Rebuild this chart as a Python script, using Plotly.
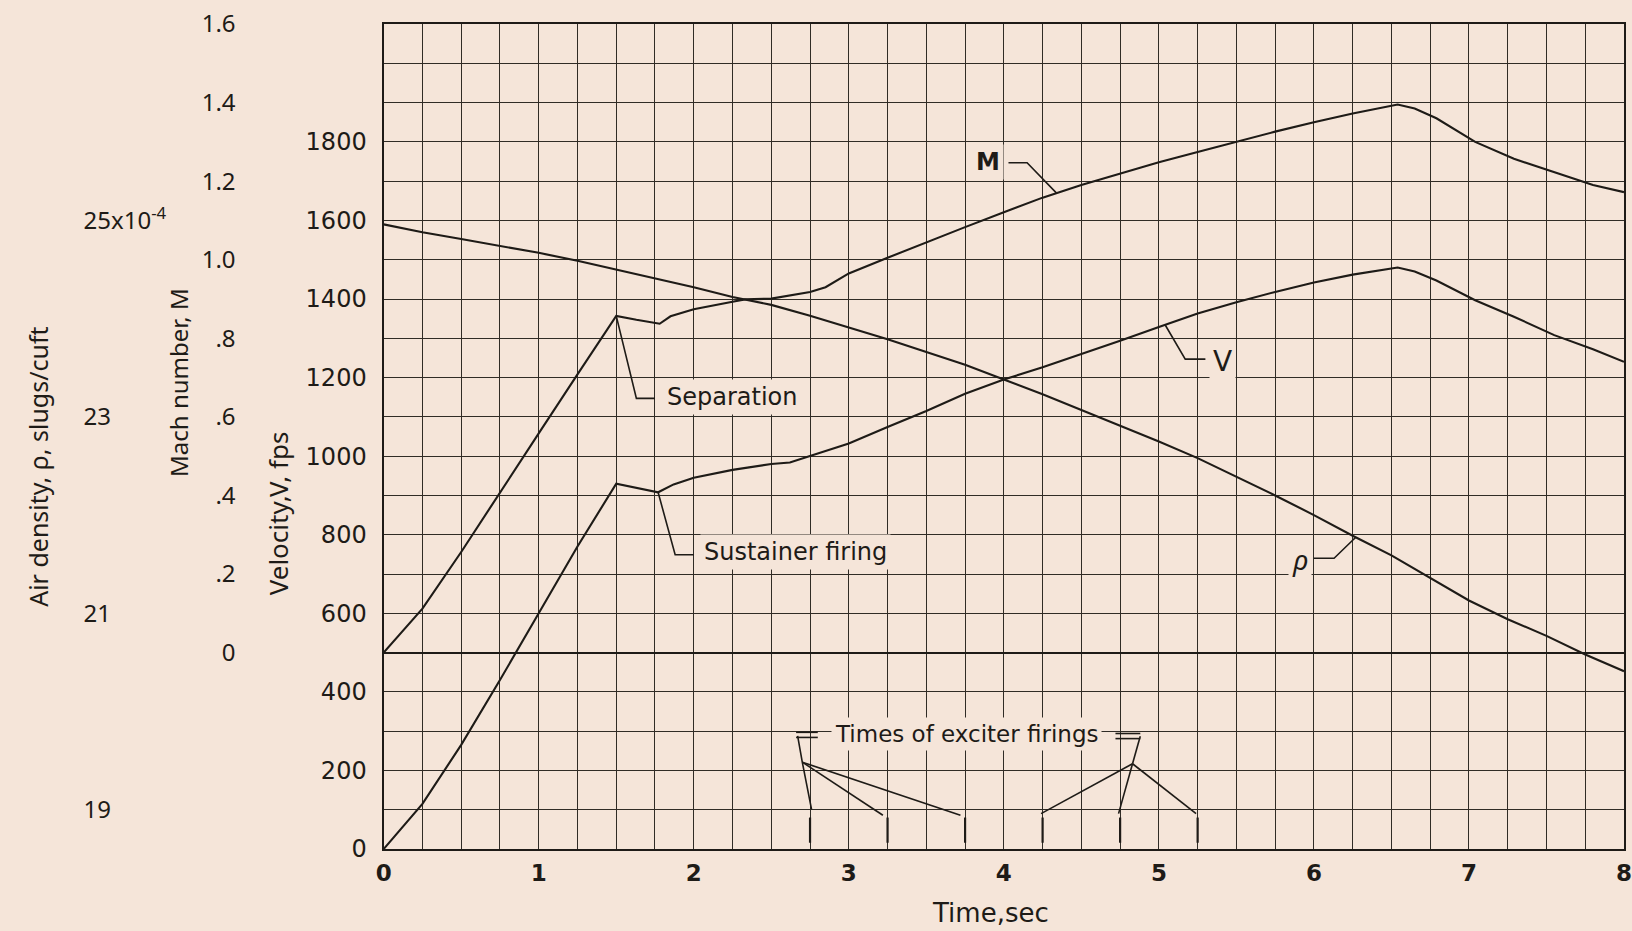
import numpy as np
import plotly.graph_objects as go

# ---------------- data ----------------
# Mach number M versus time
time_M = [0, 0.25, 0.5, 0.75, 1.0, 1.25, 1.5, 1.63, 1.78, 1.85, 2.0, 2.25, 2.33,
          2.5, 2.62, 2.75, 2.85, 3.0, 3.25, 3.5, 3.75, 4.0, 4.25, 4.5, 4.75, 5.0,
          5.25, 5.5, 5.75, 6.0, 6.25, 6.54, 6.65, 6.79, 6.92, 7.04, 7.29, 7.55, 7.8, 8.0]
mach = [0.0, 0.112, 0.256, 0.408, 0.558, 0.708, 0.857, 0.847, 0.837, 0.856, 0.874,
        0.893, 0.899, 0.901, 0.910, 0.918, 0.930, 0.965, 1.005, 1.045, 1.083, 1.121,
        1.158, 1.190, 1.220, 1.248, 1.274, 1.300, 1.326, 1.350, 1.372, 1.395, 1.385,
        1.360, 1.328, 1.300, 1.257, 1.222, 1.190, 1.172]

# Velocity V (fps) versus time
time_V = [0, 0.25, 0.5, 0.75, 1.0, 1.25, 1.5, 1.63, 1.77, 1.87, 2.0, 2.25, 2.5, 2.62,
          2.75, 3.0, 3.25, 3.5, 3.75, 4.0, 4.25, 4.5, 4.75, 5.0, 5.25, 5.5, 5.75, 6.0,
          6.25, 6.54, 6.65, 6.79, 6.92, 7.04, 7.29, 7.55, 7.8, 8.0]
velocity = [0, 115, 265, 430, 600, 770, 930, 920, 908, 928, 945, 965, 980, 984, 1000,
            1032, 1074, 1115, 1159, 1195, 1226, 1259, 1294, 1329, 1363, 1392, 1418,
            1442, 1462, 1480, 1470, 1447, 1420, 1397, 1355, 1308, 1272, 1240]

# Air density rho (x 10^-4 slugs/cuft) versus time
time_rho = [0, 0.25, 0.5, 0.75, 1.0, 1.25, 1.5, 1.75, 2.0, 2.25, 2.5, 2.75, 3.0, 3.25,
            3.5, 3.75, 4.0, 4.25, 4.5, 4.75, 5.0, 5.25, 5.5, 5.75, 6.0, 6.25, 6.5,
            6.75, 7.0, 7.25, 7.5, 7.75, 8.0]
rho = [24.96, 24.88, 24.81, 24.74, 24.67, 24.59, 24.50, 24.41, 24.32, 24.22, 24.14,
       24.03, 23.91, 23.79, 23.66, 23.53, 23.38, 23.23, 23.07, 22.91, 22.75, 22.58,
       22.39, 22.20, 22.00, 21.79, 21.59, 21.36, 21.13, 20.94, 20.77, 20.58, 20.41]

# Times of exciter firings (s)
exciter_times = [2.75, 3.25, 3.75, 4.25, 4.75, 5.25]

# tick labels
x_ticks = [0, 1, 2, 3, 4, 5, 6, 7, 8]
v_ticks = [0, 200, 400, 600, 800, 1000, 1200, 1400, 1600, 1800]
mach_ticks = [0, 0.2, 0.4, 0.6, 0.8, 1.0, 1.2, 1.4, 1.6]
mach_labels = ["0", ".2", ".4", ".6", ".8", "1.0", "1.2", "1.4", "1.6"]
rho_ticks = [19, 21, 23, 25]
rho_labels = ["19", "21", "23", "25x10<sup>-4</sup>"]

# ---------------- styling ----------------
PAPER = "#f5e5d9"
INK = "#1e1b17"
GRID = "#302c26"
FONT = "Noto Sans"
WIDE = "DejaVu Sans"
W, H = 1632, 931
ML, MR, MT, MB = 0, 6, 24, 82
PW = W - ML - MR
PH = H - MT - MB
X0 = 378  # left edge of grid in pixels


def px(x):
    return (x - ML) / PW


def py(y):
    return (H - MB - y) / PH


fig = go.Figure()

line_style = dict(color=INK, width=2.1)
lead_style = dict(color=INK, width=1.6)

fig.add_trace(go.Scatter(x=time_V, y=velocity, mode="lines", line=line_style,
                         yaxis="y", name="V", hoverinfo="skip"))
fig.add_trace(go.Scatter(x=time_M, y=mach, mode="lines", line=line_style,
                         yaxis="y2", name="M", hoverinfo="skip"))
fig.add_trace(go.Scatter(x=time_rho, y=rho, mode="lines", line=line_style,
                         yaxis="y3", name="rho", hoverinfo="skip"))

# exciter firing tick marks
fig.add_trace(go.Scatter(x=exciter_times, y=[48] * len(exciter_times), mode="markers",
                         marker=dict(symbol="line-ns", size=18,
                                     line=dict(color=INK, width=2.2)),
                         yaxis="y", hoverinfo="skip"))


def leader(xs, ys, axis):
    fig.add_trace(go.Scatter(x=xs, y=ys, mode="lines", line=lead_style,
                             yaxis=axis, hoverinfo="skip"))


# M leader
tM = 4.34
leader([tM, 4.15, 4.03], [float(np.interp(tM, time_M, mach)), 1.247, 1.247], "y2")
# V leader
tV = 5.04
leader([tV, 5.17, 5.30], [float(np.interp(tV, time_V, velocity)), 1247, 1247], "y")
# rho leader
tR = 6.27
leader([tR, 6.13, 6.00], [float(np.interp(tR, time_rho, rho)), 21.56, 21.56], "y3")
# Separation leader (from M peak)
tS = 1.5
leader([tS, 1.63, 1.75], [float(np.interp(tS, time_M, mach)), 0.647, 0.647], "y2")
# Sustainer firing leader (from V dip)
tF = 1.77
leader([tF, 1.88, 2.0], [float(np.interp(tF, time_V, velocity)), 749, 749], "y")

# exciter brackets
leader([2.66, 2.80], [297, 297], "y")
leader([2.66, 2.80], [284, 284], "y")
leader([4.72, 4.88], [294, 294], "y")
leader([4.72, 4.88], [281, 281], "y")
leader([2.67, 2.70, exciter_times[0] + 0.01], [288, 221, 100], "y")
for te in exciter_times[1:3]:
    leader([2.70, te - 0.03], [221, 86], "y")
leader([4.88, 4.83], [287, 217], "y")
for te in exciter_times[3:]:
    leader([4.83, te - 0.01], [217, 90], "y")

grid = dict(showgrid=True, gridcolor=GRID, gridwidth=1.4)

fig.update_layout(
    width=W, height=H,
    margin=dict(l=ML, r=MR, t=MT, b=MB),
    paper_bgcolor=PAPER, plot_bgcolor=PAPER,
    showlegend=False,
    font=dict(family=FONT, size=23, color=INK),
    xaxis=dict(domain=[px(X0), 1], range=[0, 8], tickmode="array", tickvals=x_ticks,
               ticktext=["<b>%d</b>" % v for v in x_ticks], ticks="",
               ticklabelstandoff=2, ticklabeloverflow="allow",
               tickfont=dict(family=WIDE, size=23, color=INK), zeroline=False,
               showline=True, linecolor=INK, linewidth=2, mirror=True,
               minor=dict(tickmode="linear", tick0=0, dtick=0.25, **grid), **grid),
    yaxis=dict(range=[0, 2100], tickmode="array", tickvals=v_ticks,
               ticktext=[str(v) for v in v_ticks], ticks="", ticklabelstandoff=10,
               ticklabeloverflow="allow",
               tickfont=dict(family=WIDE, size=24, color=INK), zeroline=False,
               showline=True, linecolor=INK, linewidth=2.4, mirror=True,
               minor=dict(tickmode="linear", tick0=0, dtick=100, **grid), **grid),
    yaxis2=dict(range=[-0.5, 1.6], overlaying="y", anchor="free", position=px(229),
                side="left", tickmode="array", tickvals=mach_ticks, ticktext=mach_labels,
                ticks="", showgrid=False, showline=False, ticklabeloverflow="allow",
                zeroline=True, zerolinecolor=INK, zerolinewidth=2.2,
                tickfont=dict(size=24, color=INK)),
    yaxis3=dict(range=[18.6, 27.0], overlaying="y", anchor="free", position=px(75),
                side="right", tickmode="array", tickvals=rho_ticks, ticktext=rho_labels,
                ticks="", showgrid=False, showline=False, zeroline=False,
                ticklabeloverflow="allow",
                tickfont=dict(size=24, color=INK)),
)

ann = []
# axis titles
ann.append(dict(text="Air density, ρ, slugs/cuft", xref="paper", yref="paper",
                x=px(30), y=py(467), textangle=-90, showarrow=False,
                xanchor="center", yanchor="middle", font=dict(size=25)))
ann.append(dict(text="Mach number, M", xref="paper", yref="paper",
                x=px(171), y=py(382), textangle=-90, showarrow=False,
                xanchor="center", yanchor="middle", font=dict(size=24)))
ann.append(dict(text="Velocity,V, fps", xref="paper", yref="paper",
                x=px(272), y=py(513), textangle=-90, showarrow=False,
                xanchor="center", yanchor="middle", font=dict(size=26)))
ann.append(dict(text="Time,sec", xref="paper", yref="paper",
                x=px(989), y=py(913), showarrow=False,
                xanchor="center", yanchor="middle", font=dict(family=WIDE, size=26)))

lab = dict(showarrow=False, bgcolor=PAPER, borderpad=3)
ann.append(dict(text="<b>M</b>", x=3.90, y=1.25, xref="x", yref="y2",
                xanchor="center", yanchor="middle", font=dict(family=WIDE, size=24), **lab))
ann.append(dict(text="V", x=5.41, y=1240, xref="x", yref="y",
                xanchor="center", yanchor="middle", font=dict(family=WIDE, size=28), **lab))
ann.append(dict(text="<i>ρ</i>", x=5.91, y=21.55, xref="x", yref="y3",
                xanchor="center", yanchor="middle", font=dict(size=28), **lab))
ann.append(dict(text="Separation", x=1.80, y=0.65, xref="x", yref="y2",
                xanchor="left", yanchor="middle", font=dict(family=WIDE, size=24), **lab))
ann.append(dict(text="Sustainer firing", x=2.04, y=755, xref="x", yref="y",
                xanchor="left", yanchor="middle", font=dict(family=WIDE, size=24), **lab))
ann.append(dict(text="Times of exciter firings", x=3.76, y=294, xref="x", yref="y",
                xanchor="center", yanchor="middle", font=dict(family=WIDE, size=23), **lab))

fig.update_layout(annotations=ann)

fig.write_html("out.html")
